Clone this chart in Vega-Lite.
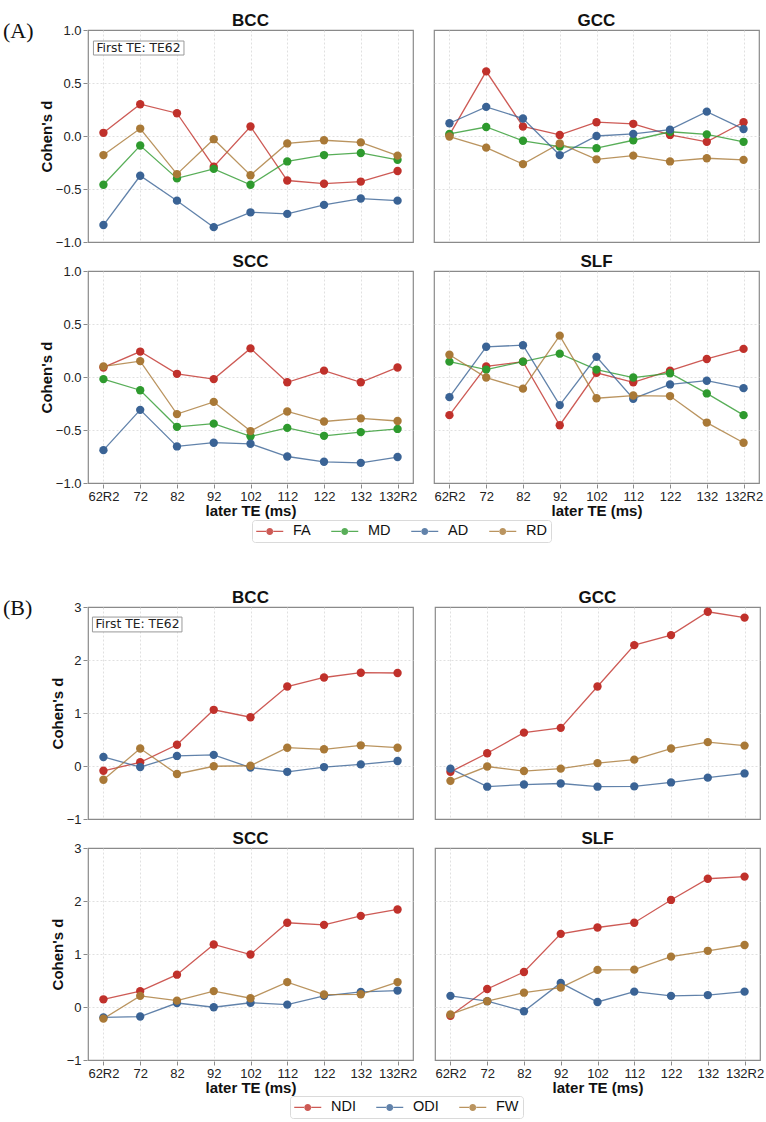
{
  "$schema": "https://vega.github.io/schema/vega-lite/v6.json",
  "padding": {"left": 3, "right": 5, "top": 11, "bottom": 0},
  "background": "white",
  "config": {
    "view": {"stroke": "#8a8a8a", "strokeWidth": 1.2},
    "axis": {
      "domain": false, "tickColor": "#8a8a8a", "tickSize": 4, "labelPadding": 2,
      "labelFont": "Liberation Sans", "labelFontSize": 13, "labelColor": "#222",
      "titleFont": "Liberation Sans", "titleFontSize": 15, "titleFontWeight": "bold", "titleColor": "#111",
      "gridColor": "#d8d8d8", "gridDash": [2, 2], "gridWidth": 0.8
    },
    "header": {"labelFont": "Liberation Sans", "labelFontSize": 17, "labelFontWeight": "bold", "labelColor": "#111", "labelPadding": 0, "title": null},
    "legend": {"layout": {"bottom": {"anchor": "middle"}}}
  },
  "spacing": 45,
  "columns": 1,
  "resolve": {"scale": {"color": "independent", "x": "independent", "y": "independent"}, "legend": {"color": "independent"}},
  "concat": [
    {
      "title": {"text": "(A)", "anchor": "start", "frame": "group", "font": "Liberation Serif", "fontSize": 22, "fontWeight": "normal", "color": "#111", "dx": -85, "offset": -32},
      "data": {"values": [
        {"region":"BCC","metric":"FA","te":"62R2","d":0.03},{"region":"BCC","metric":"FA","te":"72","d":0.30},{"region":"BCC","metric":"FA","te":"82","d":0.215},{"region":"BCC","metric":"FA","te":"92","d":-0.29},{"region":"BCC","metric":"FA","te":"102","d":0.09},{"region":"BCC","metric":"FA","te":"112","d":-0.42},{"region":"BCC","metric":"FA","te":"122","d":-0.45},{"region":"BCC","metric":"FA","te":"132","d":-0.43},{"region":"BCC","metric":"FA","te":"132R2","d":-0.33},
        {"region":"BCC","metric":"MD","te":"62R2","d":-0.46},{"region":"BCC","metric":"MD","te":"72","d":-0.09},{"region":"BCC","metric":"MD","te":"82","d":-0.40},{"region":"BCC","metric":"MD","te":"92","d":-0.31},{"region":"BCC","metric":"MD","te":"102","d":-0.46},{"region":"BCC","metric":"MD","te":"112","d":-0.24},{"region":"BCC","metric":"MD","te":"122","d":-0.18},{"region":"BCC","metric":"MD","te":"132","d":-0.16},{"region":"BCC","metric":"MD","te":"132R2","d":-0.225},
        {"region":"BCC","metric":"AD","te":"62R2","d":-0.84},{"region":"BCC","metric":"AD","te":"72","d":-0.375},{"region":"BCC","metric":"AD","te":"82","d":-0.61},{"region":"BCC","metric":"AD","te":"92","d":-0.86},{"region":"BCC","metric":"AD","te":"102","d":-0.72},{"region":"BCC","metric":"AD","te":"112","d":-0.735},{"region":"BCC","metric":"AD","te":"122","d":-0.65},{"region":"BCC","metric":"AD","te":"132","d":-0.59},{"region":"BCC","metric":"AD","te":"132R2","d":-0.61},
        {"region":"BCC","metric":"RD","te":"62R2","d":-0.18},{"region":"BCC","metric":"RD","te":"72","d":0.07},{"region":"BCC","metric":"RD","te":"82","d":-0.36},{"region":"BCC","metric":"RD","te":"92","d":-0.03},{"region":"BCC","metric":"RD","te":"102","d":-0.37},{"region":"BCC","metric":"RD","te":"112","d":-0.07},{"region":"BCC","metric":"RD","te":"122","d":-0.04},{"region":"BCC","metric":"RD","te":"132","d":-0.06},{"region":"BCC","metric":"RD","te":"132R2","d":-0.185},
        {"region":"GCC","metric":"FA","te":"62R2","d":0.01},{"region":"GCC","metric":"FA","te":"72","d":0.61},{"region":"GCC","metric":"FA","te":"82","d":0.09},{"region":"GCC","metric":"FA","te":"92","d":0.01},{"region":"GCC","metric":"FA","te":"102","d":0.13},{"region":"GCC","metric":"FA","te":"112","d":0.115},{"region":"GCC","metric":"FA","te":"122","d":0.01},{"region":"GCC","metric":"FA","te":"132","d":-0.055},{"region":"GCC","metric":"FA","te":"132R2","d":0.13},
        {"region":"GCC","metric":"MD","te":"62R2","d":0.02},{"region":"GCC","metric":"MD","te":"72","d":0.085},{"region":"GCC","metric":"MD","te":"82","d":-0.045},{"region":"GCC","metric":"MD","te":"92","d":-0.10},{"region":"GCC","metric":"MD","te":"102","d":-0.115},{"region":"GCC","metric":"MD","te":"112","d":-0.04},{"region":"GCC","metric":"MD","te":"122","d":0.04},{"region":"GCC","metric":"MD","te":"132","d":0.015},{"region":"GCC","metric":"MD","te":"132R2","d":-0.055},
        {"region":"GCC","metric":"AD","te":"62R2","d":0.12},{"region":"GCC","metric":"AD","te":"72","d":0.275},{"region":"GCC","metric":"AD","te":"82","d":0.165},{"region":"GCC","metric":"AD","te":"92","d":-0.18},{"region":"GCC","metric":"AD","te":"102","d":0.0},{"region":"GCC","metric":"AD","te":"112","d":0.02},{"region":"GCC","metric":"AD","te":"122","d":0.06},{"region":"GCC","metric":"AD","te":"132","d":0.23},{"region":"GCC","metric":"AD","te":"132R2","d":0.065},
        {"region":"GCC","metric":"RD","te":"62R2","d":-0.005},{"region":"GCC","metric":"RD","te":"72","d":-0.11},{"region":"GCC","metric":"RD","te":"82","d":-0.265},{"region":"GCC","metric":"RD","te":"92","d":-0.07},{"region":"GCC","metric":"RD","te":"102","d":-0.22},{"region":"GCC","metric":"RD","te":"112","d":-0.185},{"region":"GCC","metric":"RD","te":"122","d":-0.24},{"region":"GCC","metric":"RD","te":"132","d":-0.21},{"region":"GCC","metric":"RD","te":"132R2","d":-0.225},
        {"region":"SCC","metric":"FA","te":"62R2","d":0.09},{"region":"SCC","metric":"FA","te":"72","d":0.24},{"region":"SCC","metric":"FA","te":"82","d":0.03},{"region":"SCC","metric":"FA","te":"92","d":-0.02},{"region":"SCC","metric":"FA","te":"102","d":0.27},{"region":"SCC","metric":"FA","te":"112","d":-0.05},{"region":"SCC","metric":"FA","te":"122","d":0.06},{"region":"SCC","metric":"FA","te":"132","d":-0.05},{"region":"SCC","metric":"FA","te":"132R2","d":0.09},
        {"region":"SCC","metric":"MD","te":"62R2","d":-0.02},{"region":"SCC","metric":"MD","te":"72","d":-0.125},{"region":"SCC","metric":"MD","te":"82","d":-0.47},{"region":"SCC","metric":"MD","te":"92","d":-0.44},{"region":"SCC","metric":"MD","te":"102","d":-0.56},{"region":"SCC","metric":"MD","te":"112","d":-0.48},{"region":"SCC","metric":"MD","te":"122","d":-0.555},{"region":"SCC","metric":"MD","te":"132","d":-0.52},{"region":"SCC","metric":"MD","te":"132R2","d":-0.49},
        {"region":"SCC","metric":"AD","te":"62R2","d":-0.69},{"region":"SCC","metric":"AD","te":"72","d":-0.31},{"region":"SCC","metric":"AD","te":"82","d":-0.655},{"region":"SCC","metric":"AD","te":"92","d":-0.62},{"region":"SCC","metric":"AD","te":"102","d":-0.63},{"region":"SCC","metric":"AD","te":"112","d":-0.75},{"region":"SCC","metric":"AD","te":"122","d":-0.80},{"region":"SCC","metric":"AD","te":"132","d":-0.81},{"region":"SCC","metric":"AD","te":"132R2","d":-0.755},
        {"region":"SCC","metric":"RD","te":"62R2","d":0.10},{"region":"SCC","metric":"RD","te":"72","d":0.15},{"region":"SCC","metric":"RD","te":"82","d":-0.35},{"region":"SCC","metric":"RD","te":"92","d":-0.235},{"region":"SCC","metric":"RD","te":"102","d":-0.51},{"region":"SCC","metric":"RD","te":"112","d":-0.325},{"region":"SCC","metric":"RD","te":"122","d":-0.42},{"region":"SCC","metric":"RD","te":"132","d":-0.39},{"region":"SCC","metric":"RD","te":"132R2","d":-0.415},
        {"region":"SLF","metric":"FA","te":"62R2","d":-0.36},{"region":"SLF","metric":"FA","te":"72","d":0.10},{"region":"SLF","metric":"FA","te":"82","d":0.145},{"region":"SLF","metric":"FA","te":"92","d":-0.455},{"region":"SLF","metric":"FA","te":"102","d":0.04},{"region":"SLF","metric":"FA","te":"112","d":-0.05},{"region":"SLF","metric":"FA","te":"122","d":0.06},{"region":"SLF","metric":"FA","te":"132","d":0.17},{"region":"SLF","metric":"FA","te":"132R2","d":0.265},
        {"region":"SLF","metric":"MD","te":"62R2","d":0.145},{"region":"SLF","metric":"MD","te":"72","d":0.07},{"region":"SLF","metric":"MD","te":"82","d":0.145},{"region":"SLF","metric":"MD","te":"92","d":0.22},{"region":"SLF","metric":"MD","te":"102","d":0.07},{"region":"SLF","metric":"MD","te":"112","d":-0.005},{"region":"SLF","metric":"MD","te":"122","d":0.035},{"region":"SLF","metric":"MD","te":"132","d":-0.155},{"region":"SLF","metric":"MD","te":"132R2","d":-0.36},
        {"region":"SLF","metric":"AD","te":"62R2","d":-0.19},{"region":"SLF","metric":"AD","te":"72","d":0.285},{"region":"SLF","metric":"AD","te":"82","d":0.30},{"region":"SLF","metric":"AD","te":"92","d":-0.265},{"region":"SLF","metric":"AD","te":"102","d":0.19},{"region":"SLF","metric":"AD","te":"112","d":-0.205},{"region":"SLF","metric":"AD","te":"122","d":-0.07},{"region":"SLF","metric":"AD","te":"132","d":-0.035},{"region":"SLF","metric":"AD","te":"132R2","d":-0.105},
        {"region":"SLF","metric":"RD","te":"62R2","d":0.21},{"region":"SLF","metric":"RD","te":"72","d":-0.005},{"region":"SLF","metric":"RD","te":"82","d":-0.11},{"region":"SLF","metric":"RD","te":"92","d":0.39},{"region":"SLF","metric":"RD","te":"102","d":-0.20},{"region":"SLF","metric":"RD","te":"112","d":-0.175},{"region":"SLF","metric":"RD","te":"122","d":-0.18},{"region":"SLF","metric":"RD","te":"132","d":-0.43},{"region":"SLF","metric":"RD","te":"132R2","d":-0.62}
      ]},
      "facet": {"field": "region", "type": "nominal", "sort": ["BCC", "GCC", "SCC", "SLF"], "header": {"title": null}},
      "columns": 2,
      "spacing": {"row": 9, "column": 19},
      "spec": {
        "width": 325, "height": 212,
        "layer": [
          {
            "mark": {"type": "line", "strokeWidth": 1.3, "opacity": 0.8},
            "encoding": {
              "x": {"field": "te", "type": "ordinal", "scale": {"type": "point", "domain": ["62R2","72","82","92","102","112","122","132","132R2"], "padding": 0.42}, "axis": {"title": "later TE (ms)", "labelAngle": 0, "grid": true, "titlePadding": 0}},
              "y": {"field": "d", "type": "quantitative", "scale": {"domain": [-1, 1], "nice": false, "zero": false}, "axis": {"title": "Cohen's d", "values": [-1, -0.5, 0, 0.5, 1], "format": ".1f", "grid": true, "titlePadding": 1, "gridOpacity": {"condition": {"test": "abs(datum.value) === 1", "value": 0}, "value": 1}}},
              "color": {"field": "metric", "type": "nominal", "scale": {"domain": ["FA","MD","AD","RD"], "range": ["#c0312b","#2e9a2e","#3a6395","#a97937"]}, "legend": {
                "title": null, "orient": "bottom", "direction": "horizontal", "offset": 2,
                "symbolType": "M-1.93,-0.1L-0.45,-0.1L-0.45,0.1L-1.93,0.1Z M0.45,-0.1L1.93,-0.1L1.93,0.1L0.45,0.1Z M-0.5,0A0.5,0.5,0,1,0,0.5,0A0.5,0.5,0,1,0,-0.5,0Z",
                "symbolSize": 196, "symbolStrokeWidth": 0, "symbolOffset": 6.5,
                "labelFont": "Liberation Sans", "labelFontSize": 14.5, "labelColor": "#111", "labelOffset": 16,
                "columnPadding": 20, "padding": 4, "strokeColor": "#dadada", "cornerRadius": 3, "fillColor": "white"
              }},
              "detail": {"field": "metric"}
            }
          },
          {
            "mark": {"type": "point", "filled": true, "size": 70, "opacity": 1},
            "encoding": {
              "x": {"field": "te", "type": "ordinal"},
              "y": {"field": "d", "type": "quantitative"},
              "color": {"field": "metric", "type": "nominal", "legend": {
                "title": null, "orient": "bottom", "direction": "horizontal", "offset": 2,
                "symbolType": "M-1.93,-0.1L-0.45,-0.1L-0.45,0.1L-1.93,0.1Z M0.45,-0.1L1.93,-0.1L1.93,0.1L0.45,0.1Z M-0.5,0A0.5,0.5,0,1,0,0.5,0A0.5,0.5,0,1,0,-0.5,0Z",
                "symbolSize": 196, "symbolStrokeWidth": 0, "symbolOffset": 6.5,
                "labelFont": "Liberation Sans", "labelFontSize": 14.5, "labelColor": "#111", "labelOffset": 16,
                "columnPadding": 20, "padding": 4, "strokeColor": "#dadada", "cornerRadius": 3, "fillColor": "white"
              }}
            }
          },
          {
            "transform": [{"filter": "datum.region === 'BCC' && datum.metric === 'FA' && datum.te === '62R2'"}],
            "mark": {"type": "rect", "fill": "white", "stroke": "#999", "strokeWidth": 1, "xOffset": -10, "x2Offset": 7},
            "encoding": {"x": {"datum": "62R2", "type": "ordinal"}, "x2": {"datum": "82"}, "y": {"datum": 0.896, "type": "quantitative"}, "y2": {"datum": 0.764}}
          },
          {
            "transform": [{"filter": "datum.region === 'BCC' && datum.metric === 'FA' && datum.te === '62R2'"}],
            "mark": {"type": "text", "text": "First TE: TE62", "align": "left", "baseline": "middle", "font": "DejaVu Sans", "fontSize": 12.3, "color": "#222", "xOffset": -7},
            "encoding": {"x": {"datum": "62R2", "type": "ordinal"}, "y": {"datum": 0.83, "type": "quantitative"}}
          }
        ]
      }
    },
    {
      "title": {"text": "(B)", "anchor": "start", "frame": "group", "font": "Liberation Serif", "fontSize": 22, "fontWeight": "normal", "color": "#111", "dx": -85, "offset": -32},
      "data": {"values": [
        {"region":"BCC","metric":"NDI","te":"62R2","d":-0.09},{"region":"BCC","metric":"NDI","te":"72","d":0.07},{"region":"BCC","metric":"NDI","te":"82","d":0.40},{"region":"BCC","metric":"NDI","te":"92","d":1.06},{"region":"BCC","metric":"NDI","te":"102","d":0.92},{"region":"BCC","metric":"NDI","te":"112","d":1.50},{"region":"BCC","metric":"NDI","te":"122","d":1.67},{"region":"BCC","metric":"NDI","te":"132","d":1.76},{"region":"BCC","metric":"NDI","te":"132R2","d":1.755},
        {"region":"BCC","metric":"ODI","te":"62R2","d":0.17},{"region":"BCC","metric":"ODI","te":"72","d":-0.02},{"region":"BCC","metric":"ODI","te":"82","d":0.19},{"region":"BCC","metric":"ODI","te":"92","d":0.21},{"region":"BCC","metric":"ODI","te":"102","d":-0.03},{"region":"BCC","metric":"ODI","te":"112","d":-0.11},{"region":"BCC","metric":"ODI","te":"122","d":-0.02},{"region":"BCC","metric":"ODI","te":"132","d":0.03},{"region":"BCC","metric":"ODI","te":"132R2","d":0.095},
        {"region":"BCC","metric":"FW","te":"62R2","d":-0.26},{"region":"BCC","metric":"FW","te":"72","d":0.33},{"region":"BCC","metric":"FW","te":"82","d":-0.15},{"region":"BCC","metric":"FW","te":"92","d":-0.005},{"region":"BCC","metric":"FW","te":"102","d":0.005},{"region":"BCC","metric":"FW","te":"112","d":0.345},{"region":"BCC","metric":"FW","te":"122","d":0.315},{"region":"BCC","metric":"FW","te":"132","d":0.39},{"region":"BCC","metric":"FW","te":"132R2","d":0.345},
        {"region":"GCC","metric":"NDI","te":"62R2","d":-0.11},{"region":"GCC","metric":"NDI","te":"72","d":0.24},{"region":"GCC","metric":"NDI","te":"82","d":0.63},{"region":"GCC","metric":"NDI","te":"92","d":0.72},{"region":"GCC","metric":"NDI","te":"102","d":1.50},{"region":"GCC","metric":"NDI","te":"112","d":2.28},{"region":"GCC","metric":"NDI","te":"122","d":2.47},{"region":"GCC","metric":"NDI","te":"132","d":2.91},{"region":"GCC","metric":"NDI","te":"132R2","d":2.80},
        {"region":"GCC","metric":"ODI","te":"62R2","d":-0.05},{"region":"GCC","metric":"ODI","te":"72","d":-0.39},{"region":"GCC","metric":"ODI","te":"82","d":-0.35},{"region":"GCC","metric":"ODI","te":"92","d":-0.33},{"region":"GCC","metric":"ODI","te":"102","d":-0.39},{"region":"GCC","metric":"ODI","te":"112","d":-0.385},{"region":"GCC","metric":"ODI","te":"122","d":-0.31},{"region":"GCC","metric":"ODI","te":"132","d":-0.22},{"region":"GCC","metric":"ODI","te":"132R2","d":-0.14},
        {"region":"GCC","metric":"FW","te":"62R2","d":-0.28},{"region":"GCC","metric":"FW","te":"72","d":-0.01},{"region":"GCC","metric":"FW","te":"82","d":-0.095},{"region":"GCC","metric":"FW","te":"92","d":-0.05},{"region":"GCC","metric":"FW","te":"102","d":0.055},{"region":"GCC","metric":"FW","te":"112","d":0.12},{"region":"GCC","metric":"FW","te":"122","d":0.33},{"region":"GCC","metric":"FW","te":"132","d":0.45},{"region":"GCC","metric":"FW","te":"132R2","d":0.385},
        {"region":"SCC","metric":"NDI","te":"62R2","d":0.145},{"region":"SCC","metric":"NDI","te":"72","d":0.30},{"region":"SCC","metric":"NDI","te":"82","d":0.61},{"region":"SCC","metric":"NDI","te":"92","d":1.18},{"region":"SCC","metric":"NDI","te":"102","d":0.99},{"region":"SCC","metric":"NDI","te":"112","d":1.59},{"region":"SCC","metric":"NDI","te":"122","d":1.55},{"region":"SCC","metric":"NDI","te":"132","d":1.72},{"region":"SCC","metric":"NDI","te":"132R2","d":1.84},
        {"region":"SCC","metric":"ODI","te":"62R2","d":-0.195},{"region":"SCC","metric":"ODI","te":"72","d":-0.18},{"region":"SCC","metric":"ODI","te":"82","d":0.075},{"region":"SCC","metric":"ODI","te":"92","d":-0.005},{"region":"SCC","metric":"ODI","te":"102","d":0.08},{"region":"SCC","metric":"ODI","te":"112","d":0.045},{"region":"SCC","metric":"ODI","te":"122","d":0.21},{"region":"SCC","metric":"ODI","te":"132","d":0.285},{"region":"SCC","metric":"ODI","te":"132R2","d":0.31},
        {"region":"SCC","metric":"FW","te":"62R2","d":-0.22},{"region":"SCC","metric":"FW","te":"72","d":0.21},{"region":"SCC","metric":"FW","te":"82","d":0.12},{"region":"SCC","metric":"FW","te":"92","d":0.30},{"region":"SCC","metric":"FW","te":"102","d":0.165},{"region":"SCC","metric":"FW","te":"112","d":0.47},{"region":"SCC","metric":"FW","te":"122","d":0.235},{"region":"SCC","metric":"FW","te":"132","d":0.24},{"region":"SCC","metric":"FW","te":"132R2","d":0.47},
        {"region":"SLF","metric":"NDI","te":"62R2","d":-0.165},{"region":"SLF","metric":"NDI","te":"72","d":0.34},{"region":"SLF","metric":"NDI","te":"82","d":0.66},{"region":"SLF","metric":"NDI","te":"92","d":1.38},{"region":"SLF","metric":"NDI","te":"102","d":1.50},{"region":"SLF","metric":"NDI","te":"112","d":1.59},{"region":"SLF","metric":"NDI","te":"122","d":2.02},{"region":"SLF","metric":"NDI","te":"132","d":2.42},{"region":"SLF","metric":"NDI","te":"132R2","d":2.46},
        {"region":"SLF","metric":"ODI","te":"62R2","d":0.21},{"region":"SLF","metric":"ODI","te":"72","d":0.11},{"region":"SLF","metric":"ODI","te":"82","d":-0.08},{"region":"SLF","metric":"ODI","te":"92","d":0.455},{"region":"SLF","metric":"ODI","te":"102","d":0.095},{"region":"SLF","metric":"ODI","te":"112","d":0.29},{"region":"SLF","metric":"ODI","te":"122","d":0.21},{"region":"SLF","metric":"ODI","te":"132","d":0.225},{"region":"SLF","metric":"ODI","te":"132R2","d":0.29},
        {"region":"SLF","metric":"FW","te":"62R2","d":-0.14},{"region":"SLF","metric":"FW","te":"72","d":0.11},{"region":"SLF","metric":"FW","te":"82","d":0.27},{"region":"SLF","metric":"FW","te":"92","d":0.365},{"region":"SLF","metric":"FW","te":"102","d":0.70},{"region":"SLF","metric":"FW","te":"112","d":0.705},{"region":"SLF","metric":"FW","te":"122","d":0.95},{"region":"SLF","metric":"FW","te":"132","d":1.06},{"region":"SLF","metric":"FW","te":"132R2","d":1.17}
      ]},
      "facet": {"field": "region", "type": "nominal", "sort": ["BCC", "GCC", "SCC", "SLF"], "header": {"title": null}},
      "columns": 2,
      "spacing": {"row": 9, "column": 20},
      "spec": {
        "width": 325, "height": 212,
        "layer": [
          {
            "mark": {"type": "line", "strokeWidth": 1.3, "opacity": 0.8},
            "encoding": {
              "x": {"field": "te", "type": "ordinal", "scale": {"type": "point", "domain": ["62R2","72","82","92","102","112","122","132","132R2"], "padding": 0.42}, "axis": {"title": "later TE (ms)", "labelAngle": 0, "grid": true, "titlePadding": 0}},
              "y": {"field": "d", "type": "quantitative", "scale": {"domain": [-1, 3], "nice": false, "zero": false}, "axis": {"title": "Cohen's d", "values": [-1, 0, 1, 2, 3], "format": "d", "grid": true, "titlePadding": 1, "gridOpacity": {"condition": {"test": "datum.value === 3 || datum.value === -1", "value": 0}, "value": 1}}},
              "color": {"field": "metric", "type": "nominal", "scale": {"domain": ["NDI","ODI","FW"], "range": ["#c0312b","#3a6395","#a97937"]}, "legend": {
                "title": null, "orient": "bottom", "direction": "horizontal", "offset": 1,
                "symbolType": "M-1.93,-0.1L-0.45,-0.1L-0.45,0.1L-1.93,0.1Z M0.45,-0.1L1.93,-0.1L1.93,0.1L0.45,0.1Z M-0.5,0A0.5,0.5,0,1,0,0.5,0A0.5,0.5,0,1,0,-0.5,0Z",
                "symbolSize": 196, "symbolStrokeWidth": 0, "symbolOffset": 6.5,
                "labelFont": "Liberation Sans", "labelFontSize": 14.5, "labelColor": "#111", "labelOffset": 16,
                "columnPadding": 20, "padding": 4, "strokeColor": "#dadada", "cornerRadius": 3, "fillColor": "white"
              }},
              "detail": {"field": "metric"}
            }
          },
          {
            "mark": {"type": "point", "filled": true, "size": 70, "opacity": 1},
            "encoding": {
              "x": {"field": "te", "type": "ordinal"},
              "y": {"field": "d", "type": "quantitative"},
              "color": {"field": "metric", "type": "nominal", "legend": {
                "title": null, "orient": "bottom", "direction": "horizontal", "offset": 1,
                "symbolType": "M-1.93,-0.1L-0.45,-0.1L-0.45,0.1L-1.93,0.1Z M0.45,-0.1L1.93,-0.1L1.93,0.1L0.45,0.1Z M-0.5,0A0.5,0.5,0,1,0,0.5,0A0.5,0.5,0,1,0,-0.5,0Z",
                "symbolSize": 196, "symbolStrokeWidth": 0, "symbolOffset": 6.5,
                "labelFont": "Liberation Sans", "labelFontSize": 14.5, "labelColor": "#111", "labelOffset": 16,
                "columnPadding": 20, "padding": 4, "strokeColor": "#dadada", "cornerRadius": 3, "fillColor": "white"
              }}
            }
          },
          {
            "transform": [{"filter": "datum.region === 'BCC' && datum.metric === 'NDI' && datum.te === '62R2'"}],
            "mark": {"type": "rect", "fill": "white", "stroke": "#999", "strokeWidth": 1, "xOffset": -11, "x2Offset": 5},
            "encoding": {"x": {"datum": "62R2", "type": "ordinal"}, "x2": {"datum": "82"}, "y": {"datum": 2.81, "type": "quantitative"}, "y2": {"datum": 2.53}}
          },
          {
            "transform": [{"filter": "datum.region === 'BCC' && datum.metric === 'NDI' && datum.te === '62R2'"}],
            "mark": {"type": "text", "text": "First TE: TE62", "align": "left", "baseline": "middle", "font": "DejaVu Sans", "fontSize": 12.3, "color": "#222", "xOffset": -8},
            "encoding": {"x": {"datum": "62R2", "type": "ordinal"}, "y": {"datum": 2.67, "type": "quantitative"}}
          }
        ]
      }
    }
  ]
}
